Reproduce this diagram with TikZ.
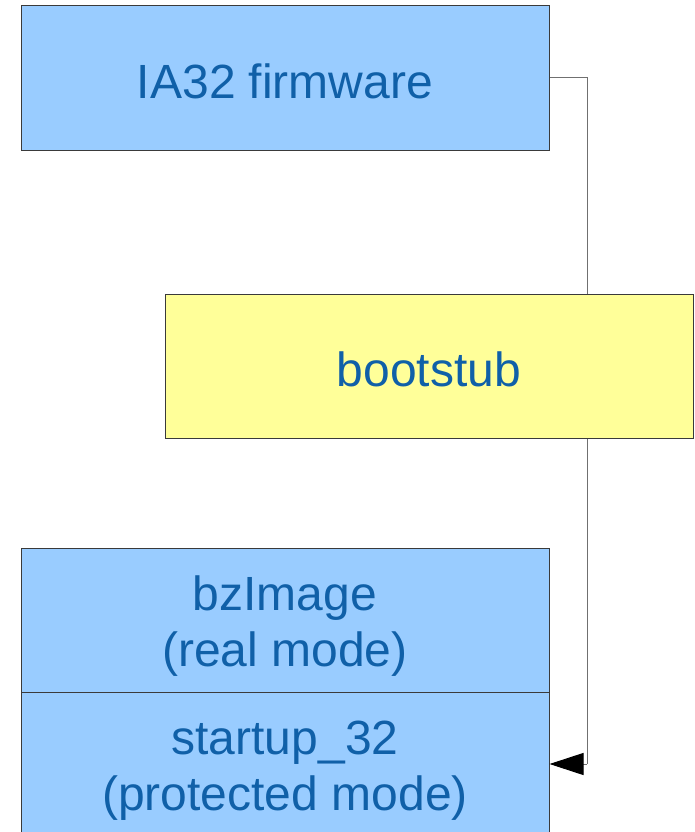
\documentclass[tikz,border=0pt]{standalone}
\usepackage{fontspec}
\setmainfont{Liberation Sans}
\usetikzlibrary{arrows.meta,backgrounds}
\definecolor{boxblue}{HTML}{99CCFF}
\definecolor{boxyellow}{HTML}{FFFF99}
\definecolor{txtblue}{HTML}{1060A8}
\definecolor{edge}{HTML}{3A3A3A}
\definecolor{wire}{HTML}{707070}
% lower a label inside its box without changing the box's centring
\newcommand{\oneline}[1]{\raisebox{-3pt}[\height][\depth]{#1}}
\newcommand{\twolines}[2]{\raisebox{-7pt}[\height][\depth]{\begin{tabular}{@{}c@{}}#1\\#2\end{tabular}}}
\tikzset{
  block/.style={draw=edge, line width=1pt, minimum width=528pt, minimum height=144pt,
    inner sep=0pt, text=txtblue, align=center,
    font=\fontsize{48}{56}\selectfont},
  wirepath/.style={draw=wire, line width=1pt},
}
\begin{document}
\begin{tikzpicture}[x=1pt,y=-1pt]
  \useasboundingbox (0,0) rectangle (695,832);
  \clip (0,0) rectangle (695,832);
  \node[block, fill=boxblue] (fw) at (285,78) {\oneline{IA32 firmware}};
  \node[block, fill=boxyellow] (boot) at (429,366) {\oneline{bootstub}};
  \node[block, fill=boxblue] (bz) at (285,620) {\twolines{bzImage}{(real mode)}};
  \node[block, fill=boxblue] (st) at (285,764) {\twolines{startup\_32}{(protected mode)}};
  \coordinate (turnA) at (587,78);
  \coordinate (turnB) at (587,764);
  % connector runs behind the boxes
  \begin{scope}[on background layer]
    \fill[white] (0,0) rectangle (695,832);
    \draw[wirepath] (fw.east) -- (turnA) -- (turnB);
  \end{scope}
  \draw[wirepath, -{Triangle[length=34pt,width=22pt,color=black,fill=black]}]
    (turnB) -- (st.east);
\end{tikzpicture}
\end{document}
